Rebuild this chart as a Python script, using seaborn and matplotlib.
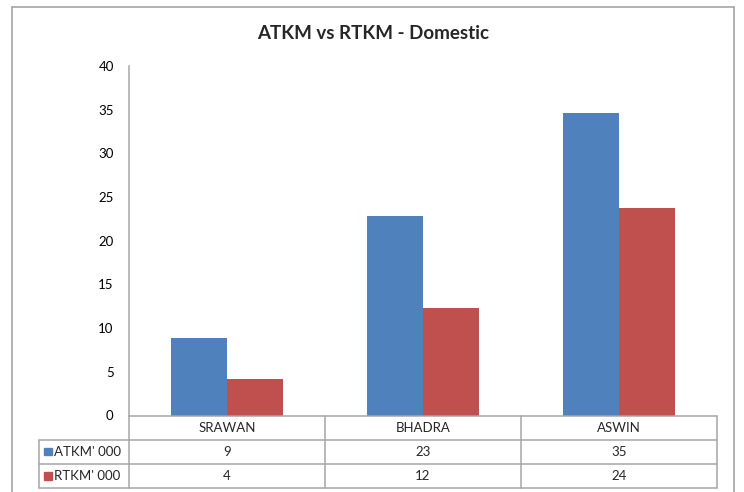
import matplotlib
matplotlib.use('Agg')
import matplotlib.pyplot as plt
import matplotlib.transforms as mtransforms
from matplotlib.lines import Line2D
from matplotlib.patches import Rectangle
import pandas as pd
import seaborn as sns

# Data
months = ['SRAWAN', 'BHADRA', 'ASWIN']
series = ["ATKM' 000", "RTKM' 000"]
atkm = [8.85, 22.85, 34.6]
rtkm = [4.15, 12.3, 23.75]
colors = ['#4F81BD', '#C0504D']

df = pd.DataFrame({
    'month': months * 2,
    'series': [series[0]] * 3 + [series[1]] * 3,
    'value': atkm + rtkm,
})

sns.set_style('white')
plt.rcParams['font.family'] = ['Lato', 'DejaVu Sans']

W, H = 744, 492
fig = plt.figure(figsize=(W / 100, H / 100), dpi=100)

def fx(px):
    return px / W

def fy(py):
    return 1 - py / H

grey = '#A6A6A6'

# outer chart border (bottom runs off the image)
for xs, ys in [([12, 12], [7, 500]), ([12, 733.7], [7, 7]), ([733.7, 733.7], [7, 500])]:
    fig.add_artist(Line2D([fx(x) for x in xs], [fy(y) for y in ys], color='#9E9E9E', lw=1.1))

ax_l, ax_r, ax_t, ax_b = 129, 717, 66, 415.5
ax = fig.add_axes([fx(ax_l), fy(ax_b), fx(ax_r - ax_l), (ax_b - ax_t) / H])

sns.barplot(data=df, x='month', y='value', hue='series', palette=colors,
            width=0.57, saturation=1, ax=ax, legend=False, edgecolor='none')

ax.set_xlim(-0.5, 2.5)
ax.set_ylim(0, 40)
ax.set_yticks(range(0, 41, 5))
ax.tick_params(axis='y', length=0, pad=11, labelsize=9.5, colors='black')
ax.set_xticks([])
ax.set_xlabel('')
ax.set_ylabel('')
for s in ['top', 'right']:
    ax.spines[s].set_visible(False)
ax.spines['left'].set_color(grey)
ax.spines['left'].set_linewidth(1.1)
ax.spines['bottom'].set_visible(False)

fig.suptitle('ATKM vs RTKM - Domestic', x=fx(373), y=fy(33), va='center',
             fontsize=13.5, fontweight='bold')

# data table under the axis: x in data units, y in pixels
trans = mtransforms.blended_transform_factory(ax.transData, fig.transFigure)
left_col = -0.5 - (ax_l - 38.5) / ((ax_r - ax_l) / 3)
rows = [415.5, 439.7, 463.7, 488.3]

def hline(x0, x1, py):
    ax.add_line(Line2D([x0, x1], [fy(py), fy(py)], transform=trans, color=grey,
                       lw=1.1, clip_on=False))

def vline(x, py0, py1):
    ax.add_line(Line2D([x, x], [fy(py0), fy(py1)], transform=trans, color=grey,
                       lw=1.1, clip_on=False))

hline(-0.5, 2.5, rows[0])
for py in rows[1:]:
    hline(left_col, 2.5, py)
for x in [-0.5, 0.5, 1.5, 2.5]:
    vline(x, rows[0], rows[3])
vline(left_col, rows[1], rows[3])

for i, m in enumerate(months):
    ax.text(i, fy((rows[0] + rows[1]) / 2), m, transform=trans, ha='center',
            va='center', fontsize=9.5)

for r, (name, vals, c) in enumerate(zip(series, [atkm, rtkm], colors)):
    yc = (rows[r + 1] + rows[r + 2]) / 2
    for i, v in enumerate(vals):
        ax.text(i, fy(yc), f'{round(v):d}', transform=trans, ha='center',
                va='center', fontsize=9.5)
    fig.add_artist(Rectangle((fx(44), fy(yc + 3.5)), fx(7.5), 7.5 / H, color=c))
    fig.text(fx(54), fy(yc), name, ha='left', va='center', fontsize=9.5)

fig.savefig('out.png', dpi=100)
